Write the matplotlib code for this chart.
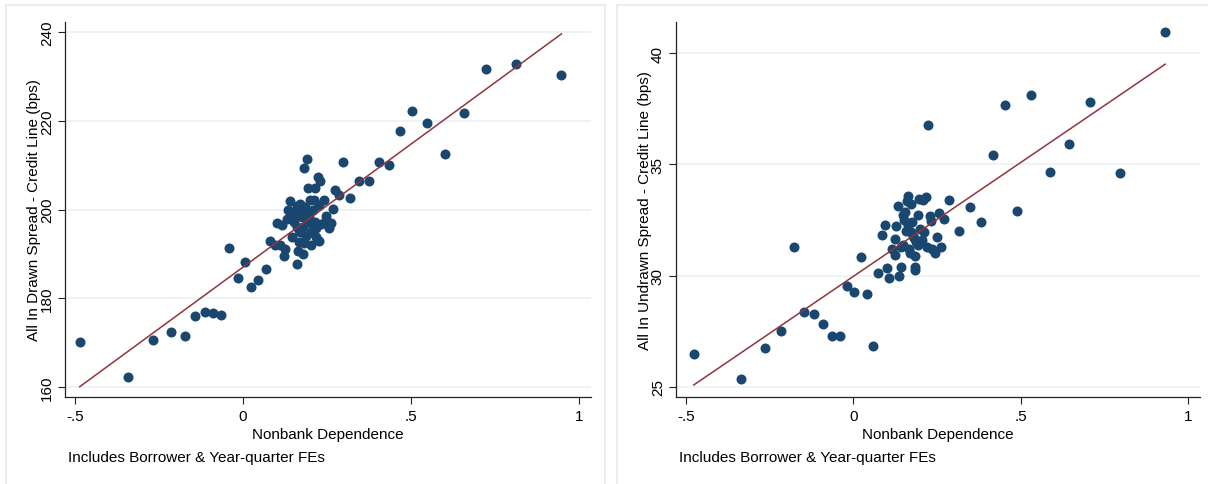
import numpy as np
import matplotlib.pyplot as plt
from matplotlib.patches import Rectangle

# left panel: drawn spread
drawn_x = [-0.486, -0.341, -0.268, -0.215, -0.174, -0.142, -0.114, -0.088, -0.066, -0.041,
           -0.016, 0.006, 0.025, 0.045, 0.067, 0.080, 0.094, 0.101, 0.121, 0.126,
           0.111, 0.146, 0.162, 0.164, 0.179, 0.168, 0.182, 0.181, 0.189, 0.194,
           0.215, 0.222, 0.230, 0.240, 0.200, 0.212, 0.141, 0.134, 0.161, 0.171,
           0.184, 0.207, 0.130, 0.115, 0.151, 0.161, 0.171, 0.188, 0.202, 0.218,
           0.227, 0.192, 0.213, 0.233, 0.248, 0.261, 0.257, 0.243, 0.268, 0.275,
           0.286, 0.298, 0.318, 0.345, 0.376, 0.405, 0.435, 0.466, 0.503, 0.548,
           0.601, 0.657, 0.724, 0.814, 0.948, 0.207, 0.176, 0.156, 0.197, 0.171,
           0.186, 0.166, 0.217, 0.202, 0.145, 0.225, 0.178]
drawn_y = [170.2, 162.1, 170.5, 172.4, 171.4, 176.0, 176.9, 176.7, 176.2, 191.3,
           184.5, 188.2, 182.5, 184.0, 186.6, 192.9, 192.0, 197.0, 189.4, 191.2,
           192.1, 193.8, 187.6, 190.6, 189.9, 192.6, 192.4, 209.3, 211.3, 204.9,
           204.9, 207.3, 206.4, 202.2, 202.1, 202.1, 201.9, 200.0, 200.9, 200.1,
           199.4, 200.0, 197.9, 196.6, 197.1, 196.0, 194.9, 194.1, 194.9, 193.7,
           192.8, 197.1, 197.1, 196.7, 198.6, 197.0, 195.8, 197.1, 200.1, 204.3,
           203.3, 210.8, 202.6, 206.4, 206.4, 210.7, 210.1, 217.8, 222.2, 219.5,
           212.6, 221.8, 231.8, 232.8, 230.4, 196.3, 198.2, 199.0, 198.5, 201.2,
           200.6, 195.3, 195.8, 192.0, 199.5, 201.0, 196.0]
drawn_fit = (187.0, 55.5)  # intercept, slope

# right panel: undrawn spread
undrawn_x = [-0.477, -0.335, -0.265, -0.215, -0.176, -0.146, -0.117, -0.090, -0.064, -0.040,
             -0.020, 0.002, 0.023, 0.042, 0.060, 0.074, 0.087, 0.096, 0.102, 0.107,
             0.117, 0.123, 0.127, 0.125, 0.133, 0.137, 0.143, 0.141, 0.148, 0.153,
             0.160, 0.164, 0.172, 0.166, 0.163, 0.173, 0.184, 0.183, 0.183, 0.192,
             0.197, 0.209, 0.216, 0.222, 0.228, 0.233, 0.194, 0.204, 0.211, 0.220,
             0.235, 0.245, 0.250, 0.256, 0.262, 0.270, 0.286, 0.315, 0.349, 0.382,
             0.417, 0.453, 0.490, 0.531, 0.587, 0.645, 0.708, 0.797, 0.932, 0.150,
             0.178, 0.188, 0.168, 0.158, 0.148, 0.198, 0.175, 0.182]
undrawn_y = [26.49, 25.36, 26.74, 27.52, 31.29, 28.38, 28.26, 27.85, 27.27, 27.27,
             29.52, 29.28, 30.85, 29.16, 26.83, 30.13, 31.81, 32.28, 30.36, 29.88,
             31.21, 31.63, 32.23, 30.94, 33.15, 29.97, 30.37, 31.29, 32.71, 32.86,
             33.34, 33.57, 33.22, 31.21, 32.26, 31.96, 30.88, 30.39, 30.24, 32.74,
             33.45, 33.39, 33.54, 36.76, 32.67, 32.44, 31.36, 31.59, 31.96, 31.29,
             31.18, 31.02, 31.74, 32.83, 31.29, 32.56, 33.40, 32.01, 33.07, 32.40,
             35.41, 37.69, 32.92, 38.14, 34.68, 35.91, 37.80, 34.62, 40.95, 32.50,
             31.80, 31.50, 31.00, 32.00, 31.40, 32.10, 32.40, 31.70]
undrawn_fit = (29.97, 10.23)

x_ticks = [-0.5, 0, 0.5, 1]
x_ticklabels = ['-.5', '0', '.5', '1']

navy = '#1a476f'
maroon = '#90353b'
plt.rcParams['font.family'] = ['Liberation Sans', 'DejaVu Sans']

fig = plt.figure(figsize=(12.08, 4.85), dpi=100)
fig.patch.set_facecolor('white')

# light panel frames (two separate graphs combined)
for x0, x1 in [(6, 605), (617, 1215)]:
    fig.patches.append(Rectangle((x0 / 1208, -0.1), (x1 - x0) / 1208, 1.1 - 6 / 485,
                                 transform=fig.transFigure, fill=False,
                                 edgecolor='#e6eaee', linewidth=1.2))


def panel(rect, xs, ys, fit, yticks, ylim, ylabel):
    ax = fig.add_axes(rect)
    ax.scatter(xs, ys, s=52, color=navy, linewidths=0, zorder=3)
    lx = np.array([min(xs), max(xs)])
    ax.plot(lx, fit[0] + fit[1] * lx, color=maroon, linewidth=1.1, zorder=4)
    ax.set_xlim(-0.53, 1.036)
    ax.set_ylim(*ylim)
    ax.set_xticks(x_ticks)
    ax.set_xticklabels(x_ticklabels)
    ax.set_yticks(yticks)
    ax.set_yticklabels([str(t) for t in yticks], rotation=90, va='center')
    ax.yaxis.grid(True, color='#eaf2f3', linewidth=1.2)
    ax.set_axisbelow(True)
    for s in ['top', 'right']:
        ax.spines[s].set_visible(False)
    for s in ['left', 'bottom']:
        ax.spines[s].set_color('#222222')
        ax.spines[s].set_linewidth(0.9)
    ax.tick_params(direction='out', length=5, width=0.8, labelsize=11, color='#222222')
    ax.tick_params(axis='y', pad=3)
    ax.set_xlabel('Nonbank Dependence', fontsize=11, labelpad=3)
    ax.set_ylabel(ylabel, fontsize=11, labelpad=-1)
    ax.text(0.005, -0.16, 'Includes Borrower & Year-quarter FEs', transform=ax.transAxes,
            fontsize=11, ha='left', va='center')
    return ax


panel([65 / 1208, 87 / 485, 526 / 1208, 375 / 485], drawn_x, drawn_y, drawn_fit,
      [160, 180, 200, 220, 240], (157.7, 242.3), 'All In Drawn Spread - Credit Line (bps)')
panel([676 / 1208, 87 / 485, 524 / 1208, 375 / 485], undrawn_x, undrawn_y, undrawn_fit,
      [25, 30, 35, 40], (24.55, 41.4), 'All In Undrawn Spread - Credit Line (bps)')

plt.savefig('out.png', dpi=100)
